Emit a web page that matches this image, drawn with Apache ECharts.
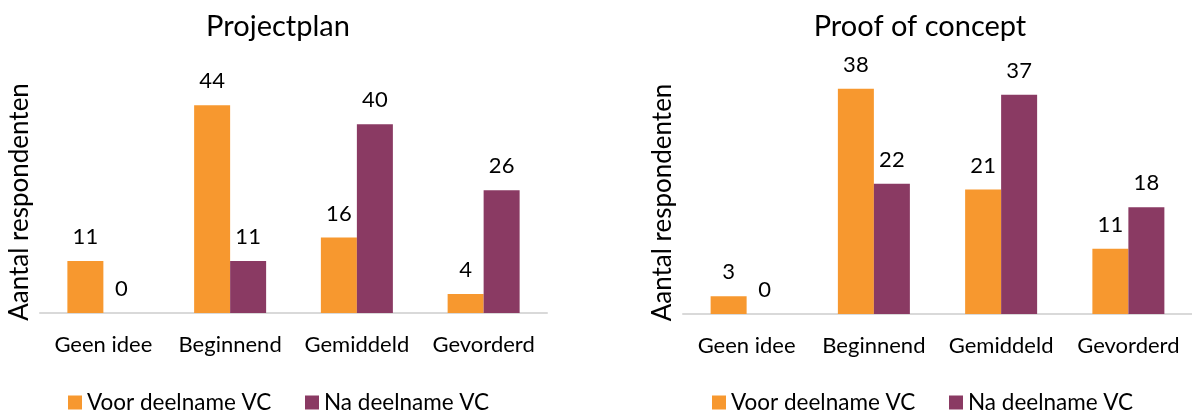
<!DOCTYPE html>
<html>
<head>
<meta charset="utf-8">
<script src="https://cdn.jsdelivr.net/npm/echarts@6/dist/echarts.min.js"></script>
<style>
  html, body { margin: 0; padding: 0; background: #fff; }
  #chart { width: 1192px; height: 412px; }
</style>
</head>
<body>
<div id="chart"></div>
<script>
// categorieen en waarden
var categories = ["Geen idee", "Beginnend", "Gemiddeld", "Gevorderd"];
var seriesNames = ["Voor deelname VC", "Na deelname VC"];
var planVoor = [11, 44, 16, 4];
var planNa = [0, 11, 40, 26];
var pocVoor = [3, 38, 21, 11];
var pocNa = [0, 22, 37, 18];
var titles = ["Projectplan", "Proof of concept"];
var yName = "Aantal respondenten";

var orange = '#F7982F';
var purple = '#8A3A63';
var font = 'Lato';

function xAxis(grid) {
	return {
		type: 'category',
		gridIndex: grid,
		data: categories,
		axisTick: { show: false },
		axisLine: { lineStyle: { color: '#D9D9D9', width: 2 } },
		axisLabel: { color: '#000', fontSize: 22, fontFamily: font, margin: 21, interval: 0 }
	};
}

function yAxis(grid, max) {
	return {
		type: 'value',
		gridIndex: grid,
		min: 0,
		max: max,
		axisLabel: { show: false },
		axisLine: { show: false },
		axisTick: { show: false },
		splitLine: { show: false },
		name: yName,
		nameLocation: 'middle',
		nameRotate: 90,
		nameGap: 7,
		nameTextStyle: { color: '#000', fontSize: 26, fontFamily: font, padding: [0, 14, 0, 0] }
	};
}

function bar(name, data, idx, color) {
	return {
		name: name,
		type: 'bar',
		xAxisIndex: idx,
		yAxisIndex: idx,
		data: data,
		barWidth: 36,
		barGap: '0%',
		itemStyle: { color: color },
		label: {
			show: true,
			position: 'top',
			distance: 13,
			color: '#000',
			fontSize: 22,
			fontFamily: font
		}
	};
}

function legend(name, left) {
	return {
		data: [name],
		left: left,
		top: 391,
		padding: 0,
		icon: 'rect',
		itemWidth: 14,
		itemHeight: 14,
		textStyle: { color: '#000', fontSize: 22.5, fontFamily: font },
		selectedMode: false
	};
}

var option = {
	backgroundColor: '#fff',
	animation: false,
	title: [
		{ text: titles[0], left: 273, top: 7, textAlign: 'center',
		  textStyle: { color: '#000', fontSize: 29, fontWeight: 'normal', fontFamily: font } },
		{ text: titles[1], left: 915, top: 7, textAlign: 'center',
		  textStyle: { color: '#000', fontSize: 29, fontWeight: 'normal', fontFamily: font } }
	],
	legend: [
		legend(seriesNames[0], 68),
		legend(seriesNames[1], 305),
		legend(seriesNames[0], 712),
		legend(seriesNames[1], 949)
	],
	grid: [
		{ left: 40, top: 77, width: 507, height: 236 },
		{ left: 683, top: 77, width: 510, height: 237 }
	],
	xAxis: [xAxis(0), xAxis(1)],
	yAxis: [yAxis(0, 50), yAxis(1, 40)],
	series: [
		bar(seriesNames[0], planVoor, 0, orange),
		bar(seriesNames[1], planNa, 0, purple),
		bar(seriesNames[0], pocVoor, 1, orange),
		bar(seriesNames[1], pocNa, 1, purple)
	]
};

var myChart = echarts.init(document.getElementById('chart'));
myChart.setOption(option);
</script>
</body>
</html>
